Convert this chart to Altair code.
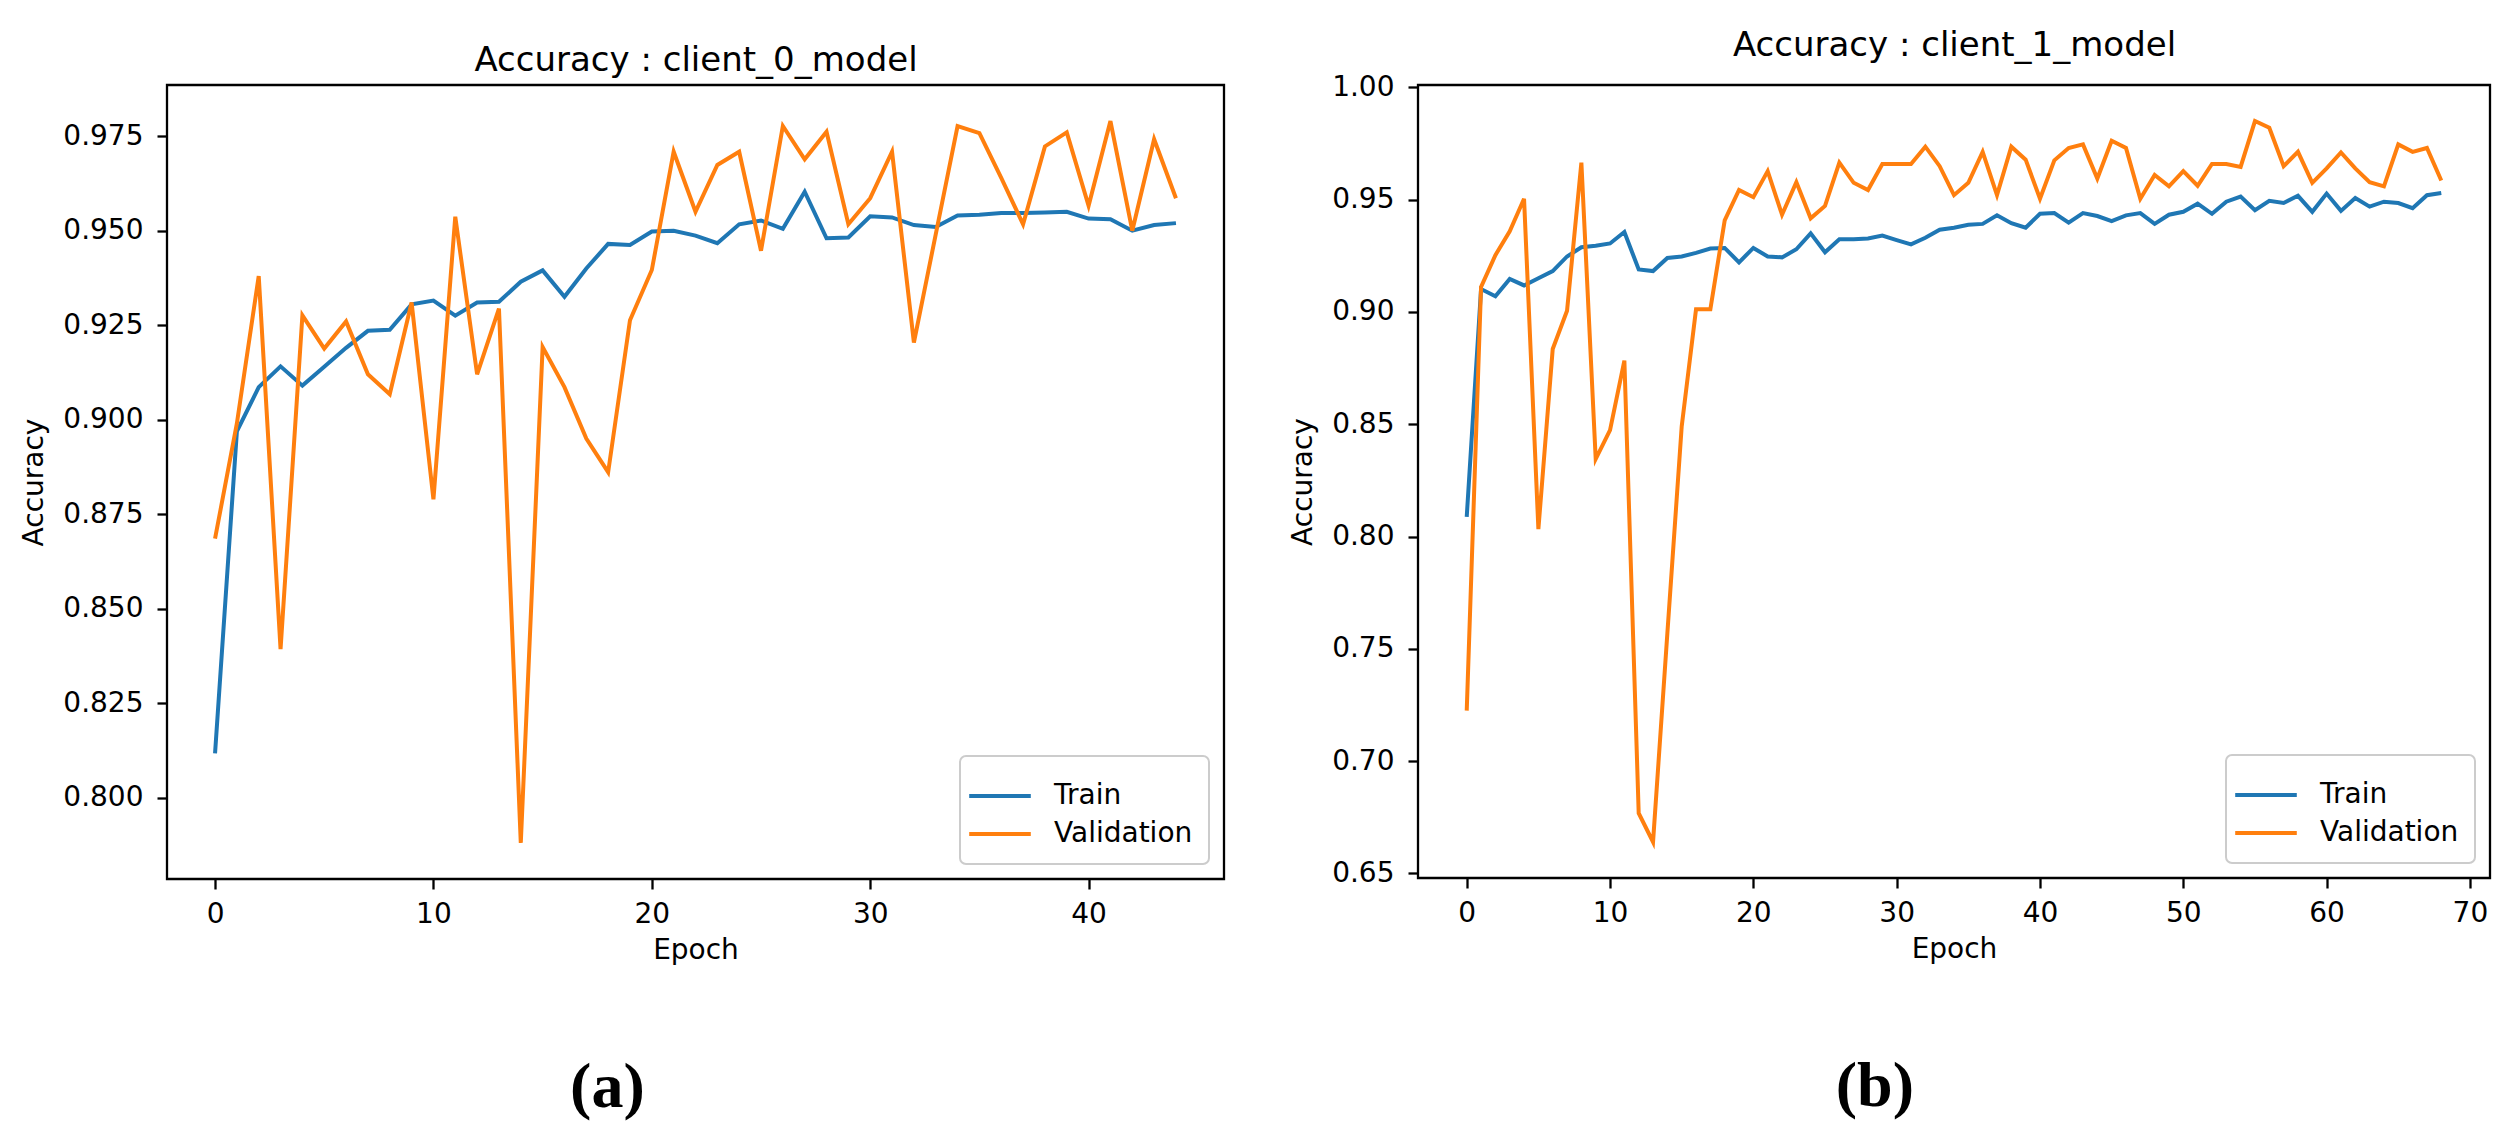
import altair as alt
import pandas as pd

# ---------------- data ----------------
train_a = [0.8117, 0.8969, 0.9086, 0.9141, 0.9090, 0.9140, 0.9190, 0.9235, 0.9238, 0.9305,
           0.9315, 0.9275, 0.9310, 0.9312, 0.9365, 0.9395, 0.9325, 0.9400, 0.9465, 0.9462,
           0.9498, 0.9500, 0.9487, 0.9467, 0.9517, 0.9527, 0.9505, 0.9603, 0.9480, 0.9482,
           0.9538, 0.9535, 0.9515, 0.9510, 0.9540, 0.9542, 0.9547, 0.9547, 0.9548, 0.9550,
           0.9532, 0.9530, 0.9500, 0.9515, 0.9520]
val_a = [0.8685, 0.8990, 0.9380, 0.8393, 0.9276, 0.9188, 0.9260, 0.9120, 0.9067, 0.9310,
         0.8789, 0.9537, 0.9120, 0.9294, 0.7880, 0.9192, 0.9086, 0.8950, 0.8861, 0.9263,
         0.9396, 0.9709, 0.9550, 0.9674, 0.9709, 0.9447, 0.9777, 0.9689, 0.9762, 0.9517,
         0.9586, 0.9709, 0.9204, 0.9490, 0.9777, 0.9758, 0.9640, 0.9517, 0.9723, 0.9760,
         0.9566, 0.9790, 0.9500, 0.9742, 0.9586]

train_b = [0.8088, 0.9102, 0.9070, 0.9147, 0.9118, 0.9150, 0.9182, 0.9247, 0.9288, 0.9295,
           0.9305, 0.9356, 0.9189, 0.9182, 0.9240, 0.9247, 0.9263, 0.9282, 0.9285, 0.9221,
           0.9285, 0.9247, 0.9243, 0.9279, 0.9350, 0.9266, 0.9324, 0.9324, 0.9327, 0.9340,
           0.9320, 0.9301, 0.9330, 0.9366, 0.9375, 0.9388, 0.9392, 0.9430, 0.9395, 0.9375,
           0.9437, 0.9440, 0.9398, 0.9440, 0.9427, 0.9404, 0.9430, 0.9440, 0.9392, 0.9433,
           0.9446, 0.9482, 0.9437, 0.9491, 0.9514, 0.9453, 0.9495, 0.9485, 0.9517, 0.9446,
           0.9527, 0.9450, 0.9507, 0.9469, 0.9491, 0.9485, 0.9462, 0.9520, 0.9530]
val_b = [0.7225, 0.9111, 0.9253, 0.9359, 0.9504, 0.8033, 0.8835, 0.9005, 0.9665, 0.8345,
         0.8474, 0.8783, 0.6768, 0.6640, 0.7570, 0.8490, 0.9012, 0.9012, 0.9408, 0.9543,
         0.9511, 0.9627, 0.9433, 0.9578, 0.9417, 0.9472, 0.9665, 0.9575, 0.9543, 0.9659,
         0.9659, 0.9659, 0.9736, 0.9649, 0.9520, 0.9575, 0.9713, 0.9520, 0.9736, 0.9678,
         0.9504, 0.9675, 0.9730, 0.9746, 0.9594, 0.9762, 0.9730, 0.9504, 0.9610, 0.9559,
         0.9627, 0.9562, 0.9659, 0.9659, 0.9646, 0.9850, 0.9820, 0.9649, 0.9713, 0.9575,
         0.9639, 0.9710, 0.9639, 0.9578, 0.9559, 0.9746, 0.9713, 0.9730, 0.9585]

series_names = ["Train", "Validation"]
titles = ["Accuracy : client_0_model", "Accuracy : client_1_model"]
captions = ["(a)", "(b)"]
yticks_a = [0.800, 0.825, 0.850, 0.875, 0.900, 0.925, 0.950, 0.975]
xticks_a = [0, 10, 20, 30, 40]
yticks_b = [0.65, 0.70, 0.75, 0.80, 0.85, 0.90, 0.95, 1.00]
xticks_b = [0, 10, 20, 30, 40, 50, 60, 70]

FONT = "DejaVu Sans"
BLUE = "#1f77b4"
ORANGE = "#ff7f0e"


def caption(text):
    return alt.TitleParams(text, orient="bottom", anchor="middle", frame="bounds",
                           font="Liberation Serif", fontWeight="bold", fontSize=64,
                           offset=92, dx=-15, color="black")


def panel(train, val, title_text, cap, yticks, yfmt, xticks, w, h, title_pad):
    n = len(train)
    df = pd.DataFrame({
        "Epoch": list(range(n)) * 2,
        "Accuracy": train + val,
        "series": [series_names[0]] * n + [series_names[1]] * n,
    })
    allv = train + val
    lo, hi = min(allv), max(allv)
    r = hi - lo
    ydom = [lo - 0.05 * r, hi + 0.05 * r]
    xdom = [-0.05 * (n - 1), (n - 1) * 1.05]
    xs = alt.Scale(domain=xdom, nice=False, zero=False)
    ys = alt.Scale(domain=ydom, nice=False, zero=False)

    lines = alt.Chart(df).mark_line(strokeWidth=4).encode(
        x=alt.X("Epoch:Q", scale=xs, axis=alt.Axis(values=xticks, format="d", title="Epoch")),
        y=alt.Y("Accuracy:Q", scale=ys, axis=alt.Axis(values=yticks, format=yfmt, title="Accuracy")),
        color=alt.Color("series:N",
                        scale=alt.Scale(domain=series_names, range=[BLUE, ORANGE]),
                        legend=alt.Legend(title=None, orient="bottom-right", offset=15)),
    )
    # invisible copy of the data whose top axis carries the panel title
    top = alt.Chart(df).mark_line(opacity=0).encode(
        x=alt.X("Epoch:Q", scale=xs,
                axis=alt.Axis(orient="top", title=title_text, labels=False, ticks=False,
                              domain=False, titleFontSize=34, titlePadding=title_pad,
                              titleFontWeight="normal")),
        y=alt.Y("Accuracy:Q", scale=ys, axis=None),
        detail="series:N",
    )
    return alt.layer(lines, top).resolve_axis(x="independent", y="independent").properties(
        width=w, height=h, title=caption(cap)
    )


pa = panel(train_a, val_a, titles[0], captions[0], yticks_a, ".3f", xticks_a, 1057, 794, 8)
pb = panel(train_b, val_b, titles[1], captions[1], yticks_b, ".2f", xticks_b, 1072, 793, 23)

chart = alt.hconcat(pa, pb, spacing=62).resolve_scale(
    color="independent", x="independent", y="independent"
).resolve_legend(color="independent").properties(
    padding={"left": 11, "top": 18, "right": 0, "bottom": 0}
).configure_view(
    stroke="black", strokeWidth=2.3
).configure_axis(
    domain=False, grid=False, tickColor="black", tickWidth=2.3, tickSize=10,
    labelFont=FONT, labelFontSize=28, labelColor="black",
    labelFlush=False, labelOverlap=False,
    titleFont=FONT, titleFontSize=28, titleFontWeight="normal", titleColor="black",
).configure_axisY(titlePadding=14, labelPadding=14).configure_axisX(
    titlePadding=8, labelPadding=11
).configure_legend(
    padding=16, fillColor="rgba(255,255,255,0.8)", strokeColor="#cccccc", strokeWidth=2,
    cornerRadius=6, symbolType="M-1.4,0H1.4", symbolSize=1936, symbolStrokeWidth=4,
    labelFont=FONT, labelFontSize=28, labelColor="black", labelOffset=30, rowPadding=0,
)

chart.save("out.html", embed_options={"renderer": "svg", "actions": False})
